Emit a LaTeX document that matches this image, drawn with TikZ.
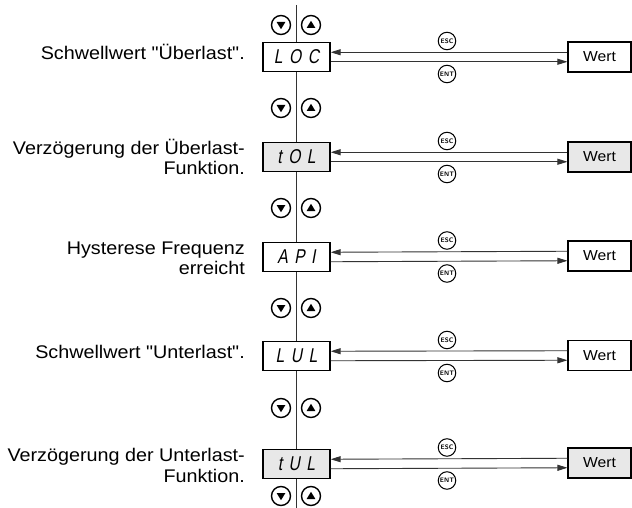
\documentclass[tikz,border=0pt]{standalone}
\usepackage{fontspec}
\setmainfont{Liberation Sans}
\newfontfamily\labelfont{Liberation Sans}[FakeStretch=1.08]
\newfontfamily\segfont{Liberation Sans}[FakeStretch=0.78,FakeSlant=0.18]
\usetikzlibrary{arrows.meta}
\newcommand\segtxt[3]{\segfont\fontsize{20}{20}\selectfont #1\hspace{6.5pt}#2\hspace{6.5pt}#3}
\definecolor{boxgray}{HTML}{E8E8E8}
\definecolor{linegray}{HTML}{333333}
\tikzset{
  lbl/.style={anchor=base east, inner sep=0pt, font=\labelfont\fontsize{18.3}{20.5}\selectfont},
  dispbox/.style={draw, line width=1.3pt, fill=white, minimum width=67pt, minimum height=29pt, inner sep=0pt},
  wertbox/.style={draw, line width=1.1pt, fill=white, minimum width=63pt, minimum height=30pt, inner sep=0pt, font=\labelfont\fontsize{14.5}{16}\selectfont},
  keyc/.style={draw, circle, line width=1pt, minimum size=17.5pt, inner sep=0pt, font=\sffamily\bfseries\fontsize{6.5}{6.5}\selectfont},
  btn/.style={draw, circle, line width=1.4pt, minimum size=19pt, inner sep=0pt},
  btndown/.style={btn, path picture={\fill ([shift={(-4.4pt,3pt)}]path picture bounding box.center) -- ++(8.8pt,0pt) -- ++(-4.4pt,-7.2pt) -- cycle;}},
  btnup/.style={btn, path picture={\fill ([shift={(-4.4pt,-3pt)}]path picture bounding box.center) -- ++(8.8pt,0pt) -- ++(-4.4pt,7.2pt) -- cycle;}},
  conn/.style={draw=linegray, line width=0.9pt, -{Triangle[length=10pt,width=6pt]}},
}
\begin{document}
\begin{tikzpicture}[x=1pt,y=-1pt]
\useasboundingbox (0,0) rectangle (632,508);
% vertical axis
\coordinate (vtop) at (296,5);
\coordinate (vbot) at (296,508);
\draw[linegray, line width=0.9pt] (vtop) -- (vbot);

% buttons
\foreach \i/\y in {0/25,1/108,2/208,3/308,4/408,5/496}{
  \node[btndown] (dn\i) at (281,\y) {};
  \node[btnup] (up\i) at (311,\y) {};
}

% display boxes
\node[dispbox] (d1) at (296.5,57) {\segtxt{L}{O}{C}};
\node[dispbox, fill=boxgray] (d2) at (296.5,157) {\segtxt{t}{O}{L}};
\node[dispbox] (d3) at (296.5,257) {\segtxt{A}{P}{I}};
\node[dispbox] (d4) at (296.5,356) {\segtxt{L}{U}{L}};
\node[dispbox, fill=boxgray] (d5) at (296.5,464) {\segtxt{t}{U}{L}};

% value boxes
\node[wertbox] (w1) at (599.5,57) {Wert};
\node[wertbox, fill=boxgray] (w2) at (599.5,157) {Wert};
\node[wertbox] (w3) at (599.5,256) {Wert};
\node[wertbox] (w4) at (599.5,355.5) {Wert};
\node[wertbox, fill=boxgray] (w5) at (599.5,463) {Wert};

% connectors and keys
\foreach \n/\y in {1/57,2/157,3/256.5,4/356,5/463.5}{
  \draw[conn] ([yshift=4.75pt]w\n.west) -- ([yshift=4.75pt]d\n.east);
  \draw[conn] ([yshift=-4.75pt]d\n.east) -- ([yshift=-4.75pt]w\n.west);
  \node[keyc] (esc\n) at (447,\y-16) {ESC};
  \node[keyc] (ent\n) at (447,\y+17) {ENT};
}

% labels
\node[lbl] (t1) at (245,59.5) {Schwellwert "Überlast".};
\node[lbl] (t2) at (245,154.5) {\begin{tabular}[t]{@{}r@{}}Verzögerung der Überlast-\\Funktion.\end{tabular}};
\node[lbl] (t3) at (245,254) {\begin{tabular}[t]{@{}r@{}}Hysterese Frequenz\\erreicht\end{tabular}};
\node[lbl] (t4) at (245,358) {Schwellwert "Unterlast".};
\node[lbl] (t5) at (245,461.5) {\begin{tabular}[t]{@{}r@{}}Verzögerung der Unterlast-\\Funktion.\end{tabular}};
\end{tikzpicture}
\end{document}
